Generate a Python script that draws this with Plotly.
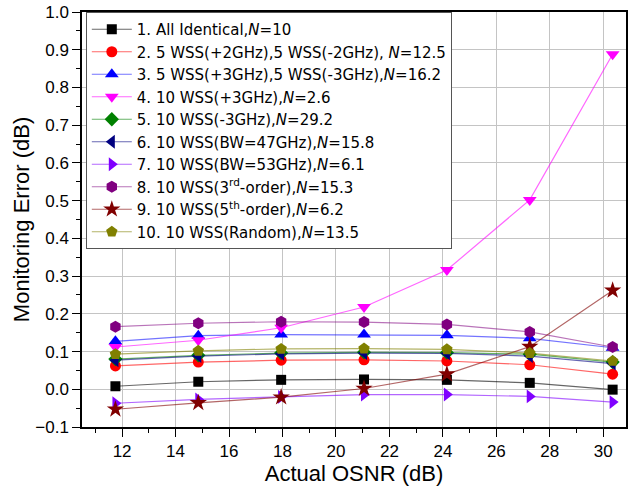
import plotly.graph_objects as go

osnr = [11.75, 14.85, 17.95, 21.05, 24.15, 27.25, 30.35]

names = [
    "1. All Identical,<i>N</i>=10",
    "2. 5 WSS(+2GHz),5 WSS(-2GHz), <i>N</i>=12.5",
    "3. 5 WSS(+3GHz),5 WSS(-3GHz),<i>N</i>=16.2",
    "4. 10 WSS(+3GHz),<i>N</i>=2.6",
    "5. 10 WSS(-3GHz),<i>N</i>=29.2",
    "6. 10 WSS(BW=47GHz),<i>N</i>=15.8",
    "7. 10 WSS(BW=53GHz),<i>N</i>=6.1",
    "8. 10 WSS(3<sup>rd</sup>-order),<i>N</i>=15.3",
    "9. 10 WSS(5<sup>th</sup>-order),<i>N</i>=6.2",
    "10. 10 WSS(Random),<i>N</i>=13.5",
]

s1 = [0.008, 0.020, 0.025, 0.026, 0.025, 0.017, -0.001]
s2 = [0.062, 0.072, 0.077, 0.078, 0.075, 0.065, 0.040]
s3 = [0.127, 0.142, 0.145, 0.145, 0.143, 0.135, 0.110]
s4 = [0.112, 0.130, 0.163, 0.218, 0.316, 0.502, 0.888]
s5 = [0.080, 0.090, 0.096, 0.098, 0.097, 0.093, 0.072]
s6 = [0.077, 0.088, 0.094, 0.096, 0.095, 0.088, 0.068]
s7 = [-0.037, -0.027, -0.020, -0.014, -0.014, -0.019, -0.034]
s8 = [0.166, 0.175, 0.179, 0.178, 0.172, 0.152, 0.112]
s9 = [-0.053, -0.036, -0.021, 0.002, 0.040, 0.113, 0.262]
s10 = [0.093, 0.102, 0.107, 0.108, 0.106, 0.096, 0.075]

series = [s1, s2, s3, s4, s5, s6, s7, s8, s9, s10]
colors = ["#000000", "#ff0000", "#0000ff", "#ff00ff", "#008000",
          "#000080", "#8000ff", "#800080", "#800000", "#808000"]
line_colors = ["rgba(0,0,0,0.6)", "rgba(255,0,0,0.6)", "rgba(0,0,255,0.55)",
               "rgba(255,0,255,0.6)", "rgba(0,128,0,0.6)", "rgba(0,0,128,0.6)",
               "rgba(128,0,255,0.6)", "rgba(128,0,128,0.55)", "rgba(128,0,0,0.6)",
               "rgba(128,128,0,0.6)"]
symbols = ["square", "circle", "triangle-up", "triangle-down", "diamond",
           "triangle-left", "triangle-right", "hexagon", "star", "pentagon"]
sizes = [10, 11, 12, 12, 11, 12, 12, 12, 13, 12]

fig = go.Figure()
for nm, ys, c, lc, sym, sz in zip(names, series, colors, line_colors, symbols, sizes):
    fig.add_trace(go.Scatter(
        x=osnr, y=ys, name=nm, mode="lines+markers",
        line=dict(color=lc, width=1.2),
        marker=dict(symbol=sym, color=c, size=sz, line=dict(width=0)),
    ))

axis_font = dict(family="Liberation Sans, Arial, sans-serif", size=17, color="#000")
fig.update_layout(
    width=639, height=486,
    margin=dict(l=82, r=13, t=12, b=59),
    paper_bgcolor="white", plot_bgcolor="white",
    font=dict(family="Liberation Sans, Arial, sans-serif", size=16, color="#000"),
    showlegend=True,
    legend=dict(
        x=0.007, y=1.0, xanchor="left", yanchor="top",
        bordercolor="#555", borderwidth=1, bgcolor="white",
        font=dict(family="DejaVu Sans, sans-serif", size=15), itemwidth=40, tracegroupgap=0,
    ),
    xaxis=dict(
        range=[10.5, 30.85], dtick=2, tick0=12, automargin=False,
        showgrid=True, gridcolor="#c4c4c4", gridwidth=1,
        ticks="outside", ticklen=8, tickcolor="#000",
        showline=True, linecolor="#000", linewidth=1.5, mirror=True,
        tickfont=axis_font, zeroline=False,
        minor=dict(dtick=1, tick0=11, ticks="outside", ticklen=4, tickcolor="#000", showgrid=False),
        title=dict(text="Actual OSNR (dB)", font=dict(size=22), standoff=0),
    ),
    yaxis=dict(
        range=[-0.1, 1.0], dtick=0.1, tickformat=".1f", automargin=False,
        showgrid=True, gridcolor="#c4c4c4", gridwidth=1,
        ticks="outside", ticklen=8, tickcolor="#000",
        showline=True, linecolor="#000", linewidth=1.5, mirror=True,
        tickfont=axis_font, zeroline=False,
        minor=dict(dtick=0.05, ticks="outside", ticklen=4, tickcolor="#000", showgrid=False),
        title=dict(text="Monitoring Error (dB)", font=dict(size=22), standoff=0),
    ),
)

fig.write_html("out.html", config={"displayModeBar": False},
               post_script="document.body.style.margin='0';")
